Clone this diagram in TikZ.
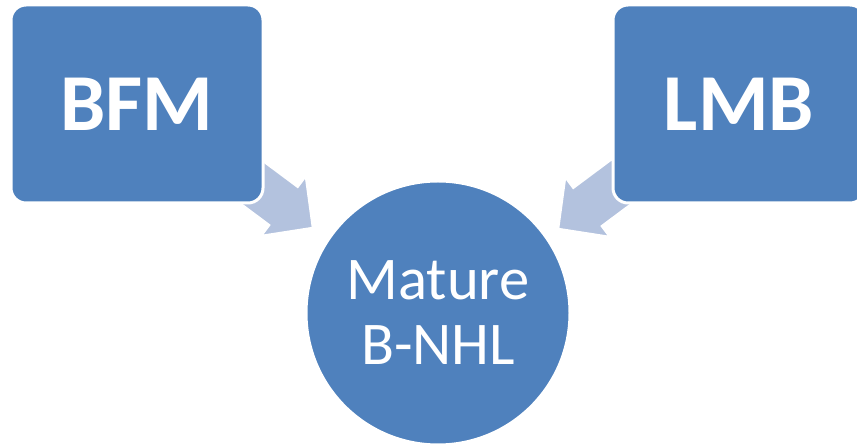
\documentclass[tikz,border=0pt]{standalone}
\usepackage{fontspec}
\setmainfont{Carlito}
\usetikzlibrary{positioning}
\definecolor{boxblue}{RGB}{79,129,189}
\definecolor{arrowblue}{RGB}{179,194,222}
\tikzset{
  source box/.style={rectangle,rounded corners=0.3cm,fill=boxblue,
    draw=white,line width=0.06cm,minimum width=5.04cm,minimum height=3.96cm,
    inner sep=0pt,text=white,font=\fontsize{46}{50}\selectfont\bfseries},
  lymphoma disc/.style={circle,fill=boxblue,draw=white,line width=0.06cm,
    minimum size=5.28cm,inner sep=0pt,text=white,align=center,
    font=\fontsize{34.5}{37}\selectfont},
  block arrow/.style={fill=arrowblue,draw=white,line width=0.05cm,
    line join=miter}
}
% block arrow: #1 tip, #2 direction it points to
\newcommand{\blockarrow}[2]{%
  \begin{scope}[shift={(#1)},rotate=#2]
    \filldraw[block arrow] (0,0) -- (-0.74,0.754) -- (-0.74,0.48)
      -- (-1.7,0.48) -- (-1.7,-0.48) -- (-0.74,-0.48)
      -- (-0.74,-0.754) -- cycle;
  \end{scope}}

\begin{document}
\begin{tikzpicture}[x=1cm,y=1cm]
  \useasboundingbox (0,0) rectangle (17.14,8.92);
  \coordinate (bfmtip) at (6.26,4.36);
  \coordinate (lmbtip) at (11.16,4.34);
  \blockarrow{bfmtip}{-36.7}
  \blockarrow{lmbtip}{-143.3}
  \node[source box] (bfm) at (2.74,6.84) {BFM};
  \node[source box,right=6.94cm of bfm] (lmb) {LMB};
  \node[lymphoma disc] (bnhl) at (8.76,2.66) {Mature\\B-NHL};
\end{tikzpicture}
\end{document}
